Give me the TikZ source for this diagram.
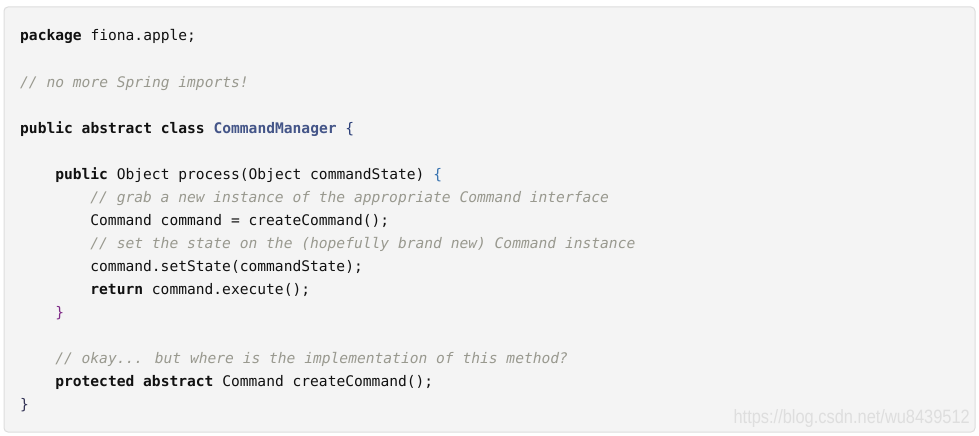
\documentclass[tikz,border=0pt]{standalone}
\usepackage{fontspec}
\newfontfamily\codefont{DejaVu Sans Mono}
\newfontfamily\markfont{Liberation Sans}
\definecolor{boxbg}{HTML}{F4F4F4}
\definecolor{boxline}{HTML}{DDDDDD}
\definecolor{cmt}{HTML}{99998F}
\definecolor{ttl}{HTML}{445588}
\definecolor{plain}{HTML}{111111}
\definecolor{bra}{HTML}{2B3F78}
\definecolor{brb}{HTML}{3A74B0}
\definecolor{brc}{HTML}{7E2A86}
\definecolor{brd}{HTML}{333355}
\definecolor{wm}{HTML}{DEDEDE}
\newcommand{\kw}[1]{\textbf{#1}}
\newcommand{\cm}[1]{{\color{cmt}\itshape #1}}
\begin{document}
\begin{tikzpicture}[x=1pt,y=-1pt,
  codeline/.style={anchor=base west,inner sep=0pt,text=plain,
    font=\codefont\fontsize{14.6}{18}\selectfont}]
\useasboundingbox (0,0) rectangle (979,436);
\fill[white] (0,0) rectangle (979,436);
\draw[rounded corners=4pt,fill=boxbg,draw=boxline,line width=1pt] (4,7) rectangle (975,432);
\node[codeline] (l1) at (20,41) {\kw{package} fiona.apple;};
\node[codeline] (l3) at (20,87) {\cm{// no more Spring imports!}};
\node[codeline] (l5) at (20,133) {\kw{public abstract class} {\color{ttl}\bfseries CommandManager} {\color{bra}\{}};
\node[codeline] (l7) at (55.1,179) {\kw{public} Object process(Object commandState) {\color{brb}\{}};
\node[codeline] (l8) at (90.2,202) {\cm{// grab a new instance of the appropriate Command interface}};
\node[codeline] (l9) at (90.2,225) {Command command = createCommand();};
\node[codeline] (l10) at (90.2,248) {\cm{// set the state on the (hopefully brand new) Command instance}};
\node[codeline] (l11) at (90.2,271) {command.setState(commandState);};
\node[codeline] (l12) at (90.2,294) {\kw{return} command.execute();};
\node[codeline] (l13) at (55.1,317) {{\color{brc}\}}};
\node[codeline] (l15) at (55.1,363) {\cm{// okay... but where is the implementation of this method?}};
\node[codeline] (l16) at (55.1,386) {\kw{protected abstract} Command createCommand();};
\node[codeline] (l17) at (20,409) {{\color{brd}\}}};
\node[anchor=base east,inner sep=0pt,text=wm,xscale=0.85,
  font=\markfont\fontsize{19.3}{20}\selectfont] (wmark) at (970,423) {https://blog.csdn.net/wu8439512};
\end{tikzpicture}
\end{document}
